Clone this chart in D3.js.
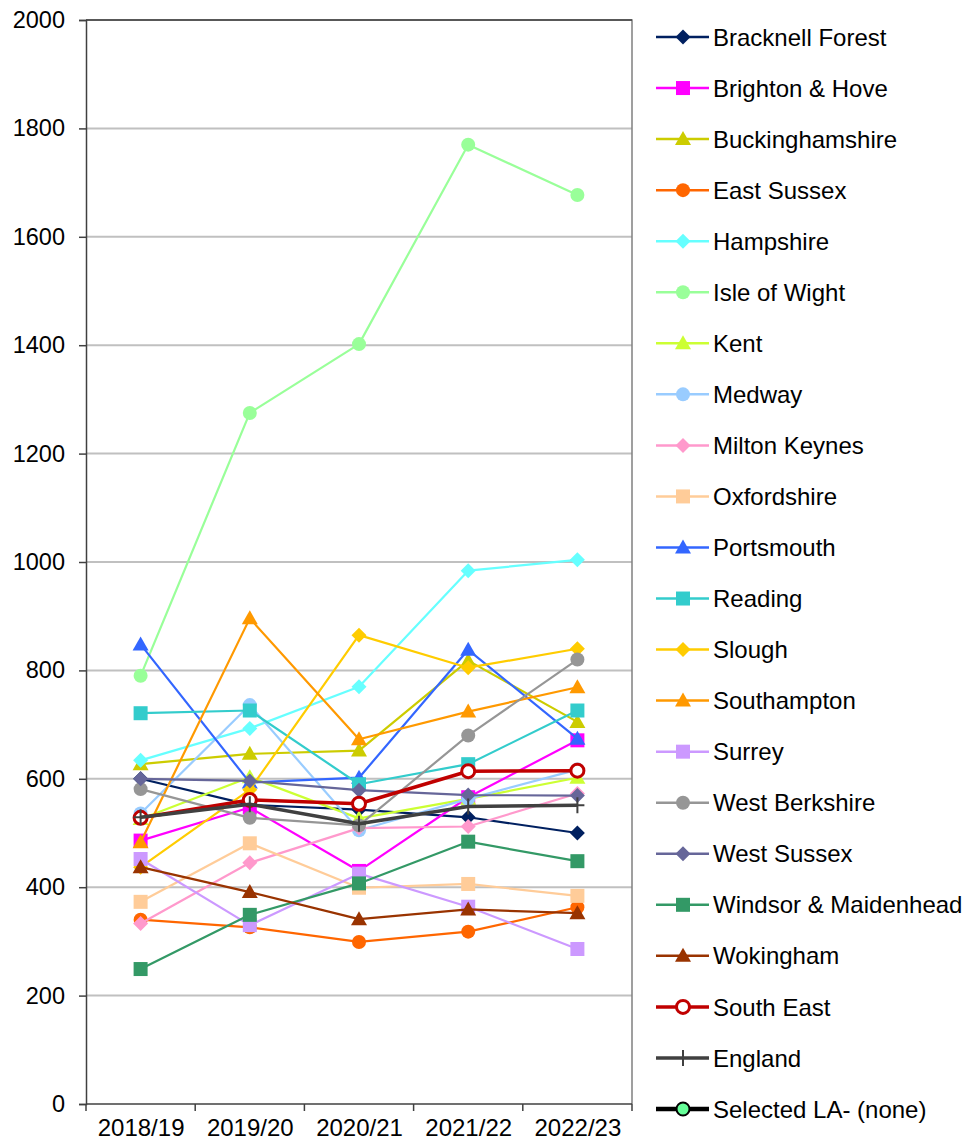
<!DOCTYPE html>
<html><head><meta charset="utf-8">
<script src="https://cdn.jsdelivr.net/npm/d3@7"></script>
<style>body{margin:0;background:#fff} svg{font-family:Arial,"Liberation Sans",sans-serif;display:block}</style>
</head><body><svg id="c" width="966" height="1143"></svg>
<script>
const years = ["2018/19","2019/20","2020/21","2021/22","2022/23"];
const yTickValues = [0,200,400,600,800,1000,1200,1400,1600,1800,2000];

const bracknellForest   = [600, 552, 543, 529, 500];
const brightonHove      = [486, 547, 430, 566, 671];
const buckinghamshire   = [627, 646, 652, 818, 705];
const eastSussex        = [340, 326, 299, 318, 363];
const hampshire         = [634, 693, 770, 984, 1004];
const isleOfWight       = [790, 1275, 1402, 1770, 1677];
const kent              = [526, 603, 527, 563, 602];
const medway            = [536, 736, 505, 563, 617];
const miltonKeynes      = [333, 445, 509, 512, 573];
const oxfordshire       = [373, 481, 399, 406, 384];
const portsmouth        = [848, 593, 602, 838, 674];
const reading           = [721, 726, 590, 627, 726];
const slough            = [437, 580, 865, 805, 840];
const southampton       = [483, 896, 673, 724, 769];
const surrey            = [452, 330, 425, 364, 286];
const westBerkshire     = [581, 528, 514, 680, 820];
const westSussex        = [600, 596, 579, 570, 569];
const windsorMaidenhead = [249, 349, 407, 484, 448];
const wokingham         = [437, 391, 341, 359, 352];
const southEast         = [528, 561, 554, 614, 615];
const england           = [529, 553, 517, 549, 551];
const selectedLA        = [];

const seriesNames = ["Bracknell Forest","Brighton & Hove","Buckinghamshire","East Sussex","Hampshire","Isle of Wight","Kent","Medway","Milton Keynes","Oxfordshire","Portsmouth","Reading","Slough","Southampton","Surrey","West Berkshire","West Sussex","Windsor & Maidenhead","Wokingham","South East","England","Selected LA- (none)"];
const seriesValues = [bracknellForest,brightonHove,buckinghamshire,eastSussex,hampshire,isleOfWight,kent,medway,miltonKeynes,oxfordshire,portsmouth,reading,slough,southampton,surrey,westBerkshire,westSussex,windsorMaidenhead,wokingham,southEast,england,selectedLA];
const seriesColors = ["#002060","#FF00FF","#CCCC00","#FF6600","#66FFFF","#99FF99","#CCFF33","#99CCFF","#FF99CC","#FFCC99","#3366FF","#33CCCC","#FFCC00","#FF9900","#CC99FF","#969696","#666699","#339966","#993300","#C00000","#404040","#000000"];
const seriesMarkers = ["diamond","square","triangle","circle","diamond","circle","triangle","circle","diamond","square","triangle","square","diamond","triangle","square","circle","diamond","square","triangle","opencircle","plus","greencircle"];

const series = seriesNames.map((n,i)=>({name:n, values:seriesValues[i], color:seriesColors[i], marker:seriesMarkers[i]}));

const svg = d3.select("#c");
const L=86, R=632, T=20, B=1104;
const x = d3.scalePoint().domain(years).range([L,R]).padding(0.5);
const xb = d3.scaleBand().domain(years).range([L,R]);
const y = d3.scaleLinear().domain([0,2000]).range([B,T]);

// gridlines
svg.append("g").selectAll("line").data(yTickValues.filter(v=>v>0 && v<2000)).join("line")
  .attr("x1",L).attr("x2",R).attr("y1",d=>y(d)).attr("y2",d=>y(d))
  .attr("stroke","#c0c0c0").attr("stroke-width",2);

// border top/right
svg.append("path").attr("d",`M${L},${T}H${R}V${B}`).attr("fill","none").attr("stroke","#808080").attr("stroke-width",1.5);
svg.append("line").attr("x1",L).attr("x2",R).attr("y1",T).attr("y2",T).attr("stroke","#404040").attr("stroke-width",1.5);

// y axis
const ya = svg.append("g").attr("transform",`translate(${L},0)`)
  .call(d3.axisLeft(y).tickValues(yTickValues).tickSize(7).tickPadding(14).tickFormat(d3.format("d")));
ya.select(".domain").attr("stroke","#404040").attr("stroke-width",1.5);
ya.selectAll(".tick line").attr("stroke","#404040").attr("stroke-width",1.5);
ya.selectAll("text").attr("font-size",23.5).attr("fill","#000").attr("font-family","Arial, 'Liberation Sans', sans-serif");

// x axis
const xa = svg.append("g").attr("transform",`translate(0,${B})`)
  .call(d3.axisBottom(x).tickSize(0).tickPadding(15));
xa.select(".domain").attr("stroke","#404040").attr("stroke-width",1.5).attr("d",`M${L},0H${R}`);
xa.selectAll("text").attr("font-size",24).attr("fill","#000").attr("font-family","Arial, 'Liberation Sans', sans-serif");
svg.append("g").selectAll("line").data(years.concat(["end"])).join("line")
  .attr("x1",(d,i)=>L+i*xb.step()).attr("x2",(d,i)=>L+i*xb.step())
  .attr("y1",B).attr("y2",B+7).attr("stroke","#404040").attr("stroke-width",1.5);

function drawMarker(g, type, color, cx, cy){
  if(type==="diamond"){
    g.append("path").attr("d",`M${cx},${cy-7.5}L${cx+7.5},${cy}L${cx},${cy+7.5}L${cx-7.5},${cy}Z`).attr("fill",color);
  } else if(type==="square"){
    g.append("rect").attr("x",cx-7).attr("y",cy-7).attr("width",14).attr("height",14).attr("fill",color);
  } else if(type==="triangle"){
    g.append("path").attr("d",`M${cx},${cy-8}L${cx+8},${cy+6}L${cx-8},${cy+6}Z`).attr("fill",color);
  } else if(type==="circle"){
    g.append("circle").attr("cx",cx).attr("cy",cy).attr("r",7).attr("fill",color);
  } else if(type==="opencircle"){
    g.append("circle").attr("cx",cx).attr("cy",cy).attr("r",6.5).attr("fill","#fff").attr("stroke",color).attr("stroke-width",3);
  } else if(type==="plus"){
    g.append("path").attr("d",`M${cx-7},${cy}H${cx+7}M${cx},${cy-8}V${cy+8}`).attr("stroke",color).attr("stroke-width",2);
  } else if(type==="greencircle"){
    g.append("circle").attr("cx",cx).attr("cy",cy).attr("r",6.5).attr("fill","#66FF99").attr("stroke","#000").attr("stroke-width",2);
  }
}

const line = d3.line().x((d,i)=>x(years[i])).y(d=>y(d));
const plot = svg.append("g");
series.forEach(s=>{
  if(!s.values.length) return;
  const g = plot.append("g");
  const thick = (s.marker==="opencircle"||s.marker==="plus");
  g.append("path").datum(s.values).attr("d",line).attr("fill","none")
    .attr("stroke",s.color).attr("stroke-width",thick?3.5:2.2).attr("stroke-linejoin","round");
  s.values.forEach((v,i)=>drawMarker(g, s.marker, s.color, x(years[i]), y(v)));
});

// legend
const lg = svg.append("g");
const rowY = d3.scaleLinear().domain([0,21]).range([37,1109]);
series.forEach((s,i)=>{
  const g = lg.append("g");
  const cy = rowY(i);
  const thick = (s.marker==="opencircle"||s.marker==="plus");
  const w = s.marker==="greencircle"?4.5:(thick?3.5:2.5);
  g.append("line").attr("x1",656).attr("x2",709).attr("y1",cy).attr("y2",cy).attr("stroke",s.color).attr("stroke-width",w);
  drawMarker(g, s.marker, s.color, 683, cy);
  g.append("text").attr("x",713).attr("y",cy).attr("dy","0.36em").attr("font-size",24).attr("fill","#000").text(s.name);
});
</script></body></html>
